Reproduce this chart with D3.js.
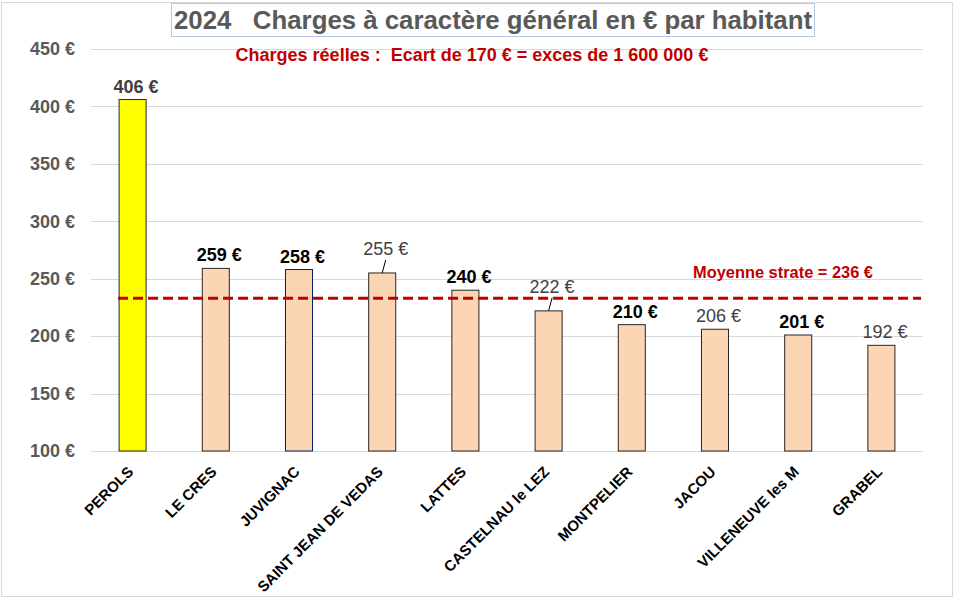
<!DOCTYPE html>
<html>
<head>
<meta charset="utf-8">
<script src="https://cdn.jsdelivr.net/npm/d3@7"></script>
<style>
  body { margin: 0; background: #fff; }
  svg { display: block; font-family: "Liberation Sans", Arial, sans-serif; }
  text { white-space: pre; }
</style>
</head>
<body>
<div id="chart"></div>
<script>
// data
const cities = ["PEROLS", "LE CRES", "JUVIGNAC", "SAINT JEAN DE VEDAS", "LATTES",
  "CASTELNAU le LEZ", "MONTPELIER", "JACOU", "VILLENEUVE les M", "GRABEL"];
const charges = [406, 259, 258, 255, 240, 222, 210, 206, 201, 192];
const yTicks = [100, 150, 200, 250, 300, 350, 400, 450];
const averageValue = 233; // where the dashed line sits
const averageLabel = "Moyenne strate = 236 €";
const titleText = "2024   Charges à caractère général en € par habitant";
const noteText = "Charges réelles :  Ecart de 170 € = exces de 1 600 000 €";

const width = 955, height = 599;
const svg = d3.select("#chart").append("svg")
  .attr("width", width)
  .attr("height", height);

// sheet border
svg.append("rect")
  .attr("x", 1.5).attr("y", 2.5)
  .attr("width", 951).attr("height", 594)
  .attr("fill", "none").attr("stroke", "#d9d9d9");

const x = d3.scaleBand()
  .domain(cities)
  .range([91, 923])
  .paddingInner(0.675)
  .paddingOuter(0.3375);

const y = d3.scaleLinear()
  .domain([100, 450])
  .range([451, 49]);

// gridlines
svg.append("g")
  .selectAll("line")
  .data(yTicks)
  .join("line")
  .attr("x1", 91).attr("x2", 923)
  .attr("y1", d => Math.round(y(d)) + 0.5)
  .attr("y2", d => Math.round(y(d)) + 0.5)
  .attr("stroke", "#d9d9d9");

// y axis
const yAxis = svg.append("g")
  .attr("transform", "translate(91,0)")
  .call(d3.axisLeft(y).tickValues(yTicks).tickFormat(d => d + " €").tickSize(0).tickPadding(16));
yAxis.select(".domain").remove();
yAxis.selectAll("text")
  .attr("font-family", "Liberation Sans, Arial, sans-serif")
  .attr("font-size", 18)
  .attr("font-weight", "bold")
  .attr("fill", "#595959");

// bars
svg.append("g")
  .selectAll("rect")
  .data(cities)
  .join("rect")
  .attr("x", d => x(d))
  .attr("y", (d, i) => y(charges[i]))
  .attr("width", x.bandwidth())
  .attr("height", (d, i) => y(100) - y(charges[i]))
  .attr("fill", (d, i) => i === 0 ? "#ffff00" : "#fcd5b4")
  .attr("stroke", d => d === "JUVIGNAC" ? "#002060" : "#262626")
  .attr("stroke-width", 1);

// x axis labels
const xAxis = svg.append("g")
  .attr("transform", "translate(0,451)")
  .call(d3.axisBottom(x).tickSize(0));
xAxis.select(".domain").remove();
xAxis.selectAll("text")
  .attr("font-family", "Liberation Sans, Arial, sans-serif")
  .attr("font-size", 15)
  .attr("font-weight", "bold")
  .attr("fill", "#000")
  .attr("text-anchor", "end")
  .attr("y", 0)
  .attr("dy", "0.35em")
  .attr("transform", "translate(-2,18) rotate(-45)");

// average line
svg.append("line")
  .attr("x1", x(cities[0]) - 1)
  .attr("x2", 921)
  .attr("y1", y(averageValue))
  .attr("y2", y(averageValue))
  .attr("stroke", "#c00000")
  .attr("stroke-width", 3)
  .attr("stroke-dasharray", "10,5");

svg.append("text")
  .attr("x", 783).attr("y", 278)
  .attr("text-anchor", "middle")
  .attr("font-size", 16.4)
  .attr("font-weight", "bold")
  .attr("fill", "#c00000")
  .text(averageLabel);

// value labels
const grey = new Set([0, 3, 5, 7, 9]);
const raised = new Set(["SAINT JEAN DE VEDAS", "CASTELNAU le LEZ"]);
const labels = svg.append("g");
cities.forEach((c, i) => {
  const cx = x(c) + x.bandwidth() / 2;
  const top = y(charges[i]);
  const up = raised.has(c) ? 17.5 : 7;
  labels.append("text")
    .attr("x", cx + 3.5)
    .attr("y", top - up)
    .attr("text-anchor", "middle")
    .attr("font-size", 18)
    .attr("font-weight", grey.has(i) && i !== 0 ? "normal" : "bold")
    .attr("fill", grey.has(i) ? "#404040" : "#000")
    .text(charges[i] + " €");
  if (raised.has(c)) {
    labels.append("line")
      .attr("x1", cx).attr("y1", top)
      .attr("x2", cx + 3.5).attr("y2", top - 13)
      .attr("stroke", "#000").attr("stroke-width", 1);
  }
});

// title with its box
svg.append("rect")
  .attr("x", 171.5).attr("y", 3.5)
  .attr("width", 643).attr("height", 33)
  .attr("fill", "#fff")
  .attr("stroke", "#b4c7e7");
svg.append("text")
  .attr("x", 493).attr("y", 29)
  .attr("text-anchor", "middle")
  .attr("font-size", 25.8)
  .attr("font-weight", "bold")
  .attr("fill", "#595959")
  .text(titleText);

svg.append("text")
  .attr("x", 472).attr("y", 61)
  .attr("text-anchor", "middle")
  .attr("font-size", 18)
  .attr("font-weight", "bold")
  .attr("fill", "#c00000")
  .text(noteText);
</script>
</body>
</html>
